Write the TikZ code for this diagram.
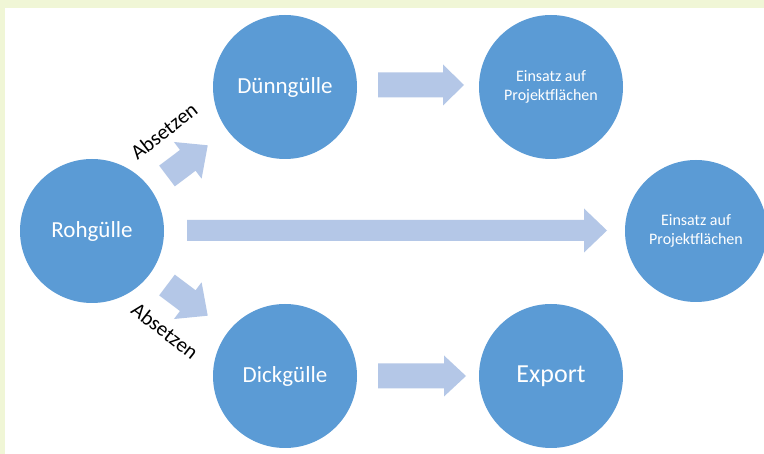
\documentclass[tikz,border=0pt]{standalone}
\usepackage{fontspec}
\setmainfont{Carlito}
\definecolor{circblue}{RGB}{91,155,213}
\definecolor{arrowblue}{RGB}{180,199,231}
\definecolor{framegreen}{RGB}{240,246,214}
\tikzset{
  circ/.style={circle, fill=circblue, draw=none, minimum size=144pt, inner sep=0pt, text=white, align=center},
  bigtxt/.style={font=\fontsize{23}{27}\selectfont},
  smalltxt/.style={font=\fontsize{16}{19}\selectfont},
  lbl/.style={font=\fontsize{21}{25}\selectfont, text=black, inner sep=0pt},
  blockarrow/.style={fill=arrowblue, draw=none}
}
% \barrow{x}{y}{angle}{length}{shaft half}{head half}{head length}
\newcommand{\barrow}[7]{%
  \begin{scope}[shift={(#1,#2)}, rotate=#3]
    \fill[blockarrow] (0,-#5) -- ({#4-#7},-#5) -- ({#4-#7},-#6) -- (#4,0) -- ({#4-#7},#6) -- ({#4-#7},#5) -- (0,#5) -- cycle;
  \end{scope}}
\begin{document}
\begin{tikzpicture}[x=1pt,y=-1pt]
\useasboundingbox (0,0) rectangle (764,454);
\fill[framegreen] (0,0) rectangle (764,454);
\fill[white] (5,8) rectangle (764,454);
\begin{scope}
\clip (0,0) rectangle (764,454);
\node[circ, bigtxt] (roh) at (92,231) {Rohgülle};
\node[circ, bigtxt] (duenn) at (285,87) {Dünngülle};
\node[circ, smalltxt] (einsatz1) at (551,87) {Einsatz auf\\Projektflächen};
\node[circ, smalltxt, minimum size=142pt] (einsatz2) at (696,231) {Einsatz auf\\Projektflächen};
\node[circ, bigtxt] (dick) at (285,376) {Dickgülle};
\node[circ, font=\fontsize{26}{30}\selectfont] (export) at (551,376) {Export};
\end{scope}
\barrow{378}{85}{0}{86}{12.5}{20.5}{21}
\barrow{378}{376}{0}{88}{12.5}{20.5}{22}
\barrow{187}{230.5}{0}{420}{10.5}{22}{23}
\barrow{167}{176}{37}{51}{13}{23}{25}
\barrow{167}{285}{-37}{51}{13}{23}{25}
\node[lbl, rotate=38] (abs1) at (164,131) {Absetzen};
\node[lbl, rotate=-38] (abs2) at (165,331) {Absetzen};
\end{tikzpicture}
\end{document}
